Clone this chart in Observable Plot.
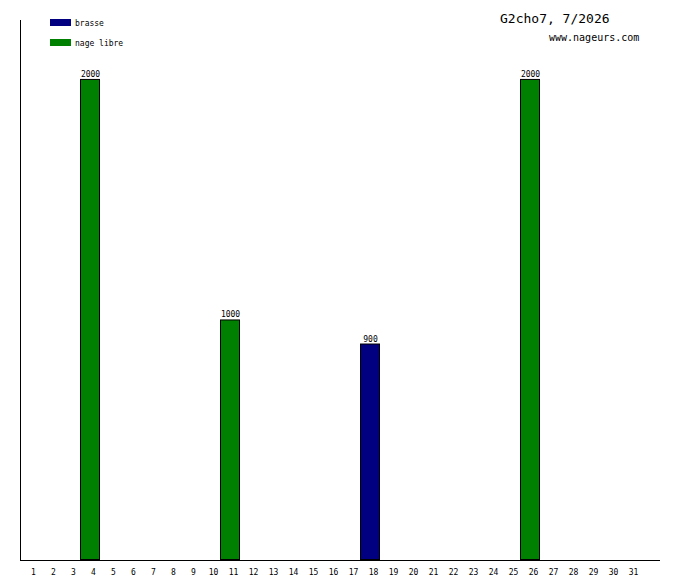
<!DOCTYPE html>
<html>
<head>
<meta charset="utf-8">
<script src="https://cdn.jsdelivr.net/npm/d3@7"></script>
<script src="https://cdn.jsdelivr.net/npm/@observablehq/plot@0.6"></script>
<style>
  body { margin: 0; background: #fff; }
  svg { display: block; }
</style>
</head>
<body>
<div id="chart"></div>
<script>
const days = d3.range(1, 33); // band slots (axis extends one extra slot)
const dayLabels = d3.range(1, 32);
const barDays = [4, 11, 18, 26];
const barValues = [2000, 1000, 900, 2000];
const barStrokes = ["nage libre", "nage libre", "brasse", "nage libre"];
const legendNames = ["brasse", "nage libre"];
const legendColors = ["#000080", "#008000"];
const title = "G2cho7, 7/2026";
const site = "www.nageurs.com";
const yMax = 2245;

const bars = barDays.map((d, i) => ({day: d, value: barValues[i], stroke: barStrokes[i]}));
const font = "DejaVu Sans Mono, monospace";

const plot = Plot.plot({
  width: 680,
  height: 580,
  marginLeft: 20,
  marginRight: 20,
  marginTop: 20,
  marginBottom: 20,
  style: {fontFamily: font, background: "#fff"},
  x: {type: "band", domain: days, padding: 0, axis: null},
  y: {domain: [0, yMax], axis: null},
  color: {domain: legendNames, range: legendColors},
  marks: [
    Plot.barY(bars, {x: "day", y: "value", fill: "stroke", stroke: "#000", strokeWidth: 1, inset: 0.5}),
    Plot.text(bars, {x: "day", y: "value", text: d => String(d.value), dy: -2.5, lineAnchor: "bottom", fontSize: 8, fill: "#000"}),
    Plot.axisX(dayLabels, {tickSize: 0, tickPadding: 0, dy: 9, dx: 3, fontSize: 8, fill: "#000", label: null}),
    Plot.ruleY([0], {stroke: "#000"}),
    Plot.ruleX([1], {x: () => 1, dx: -10, stroke: "#000"})
  ]
});

const svg = d3.select(plot);
// legend
legendNames.forEach((name, i) => {
  svg.append("rect").attr("x", 50).attr("y", 19 + i * 20).attr("width", 21).attr("height", 7).attr("fill", legendColors[i]);
  svg.append("text").attr("x", 75).attr("y", 25.5 + i * 20).attr("text-anchor", "start").attr("font-size", 8).attr("font-family", font).attr("fill", "#000").text(name);
});
svg.append("text").attr("x", 500).attr("y", 23).attr("text-anchor", "start").attr("font-size", 13).attr("font-family", font).attr("fill", "#000").text(title);
svg.append("text").attr("x", 549).attr("y", 41).attr("text-anchor", "start").attr("font-size", 10).attr("font-family", font).attr("fill", "#000").text(site);

document.getElementById("chart").appendChild(plot);
</script>
</body>
</html>
